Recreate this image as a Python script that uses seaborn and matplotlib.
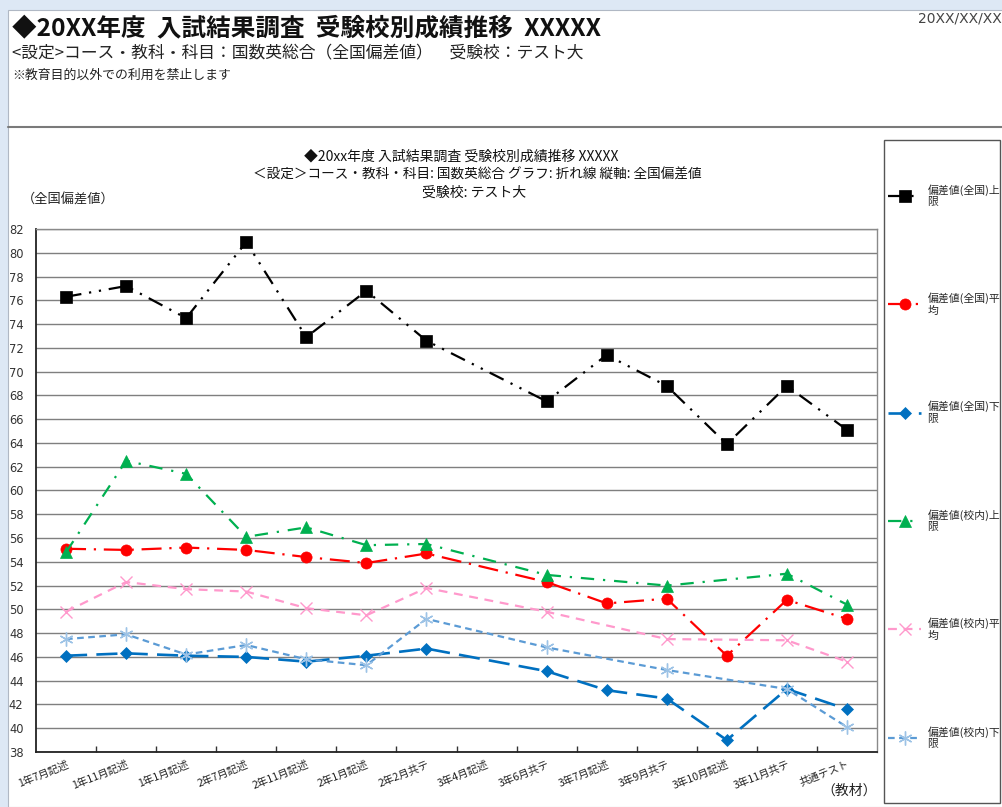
import numpy as np
import pandas as pd
import matplotlib
matplotlib.use("Agg")
import matplotlib.pyplot as plt
from matplotlib.patches import Rectangle
from matplotlib.lines import Line2D
import seaborn as sns

# ---- data -------------------------------------------------------------
categories = ["1年7月記述", "1年11月記述", "1年1月記述", "2年7月記述", "2年11月記述",
              "2年1月記述", "2年2月共テ", "3年4月記述", "3年6月共テ", "3年7月記述",
              "3年9月共テ", "3年10月記述", "3年11月共テ", "共通テスト"]
nan = np.nan
zenkoku_upper = [76.3, 77.2, 74.5, 80.9, 72.9, 76.8, 72.6, nan, 67.5, 71.4, 68.8, 63.9, 68.8, 65.1]
zenkoku_mean = [55.1, 55.0, 55.2, 55.0, 54.4, 53.9, 54.7, nan, 52.3, 50.5, 50.9, 46.1, 50.8, 49.2]
zenkoku_lower = [46.1, 46.3, 46.1, 46.0, 45.6, 46.1, 46.7, nan, 44.8, 43.2, 42.5, 39.0, 43.3, 41.6]
konai_upper = [54.8, 62.5, 61.4, 56.1, 56.9, 55.4, 55.5, nan, 52.9, nan, 52.0, nan, 53.0, 50.4]
konai_mean = [49.8, 52.3, 51.7, 51.5, 50.1, 49.5, 51.8, nan, 49.8, nan, 47.5, nan, 47.4, 45.6]
konai_lower = [47.5, 47.9, 46.2, 47.0, 45.8, 45.3, 49.2, nan, 46.8, nan, 44.9, nan, 43.3, 40.1]
series_labels = ["偏差値(全国)上限", "偏差値(全国)平均", "偏差値(全国)下限",
                 "偏差値(校内)上限", "偏差値(校内)平均", "偏差値(校内)下限"]
y_ticks = list(range(38, 83, 2))

# ---- style ------------------------------------------------------------
sns.set_theme(style="white")
plt.rcParams["font.family"] = ["Noto Sans CJK JP", "DejaVu Sans"]
plt.rcParams["axes.unicode_minus"] = False

W, H = 1002, 807
fig = plt.figure(figsize=(W / 100, H / 100), dpi=100, facecolor="#dde8f5")


def fx(x):
    return x / W


def fy(y):
    return 1 - y / H


# white sheet with a thin edge
fig.patches.append(Rectangle((fx(8), 0), 1, fy(10), transform=fig.transFigure,
                             facecolor="white", edgecolor="#b0b8c4", lw=0.8, zorder=-5))
# separator under the heading block
fig.add_artist(Line2D([fx(8), 1], [fy(127), fy(127)], transform=fig.transFigure,
                      color="#7a7a7a", lw=1.5))

# heading block
fig.text(fx(12), fy(28), "◆20XX年度  入試結果調査  受験校別成績推移  XXXXX",
         fontsize=17.7, weight="bold", va="center", ha="left", color="#111")
fig.text(fx(12), fy(54), "<設定>コース・教科・科目：国数英総合（全国偏差値）　受験校：テスト大",
         fontsize=12.1, va="center", ha="left", color="#222")
fig.text(fx(12), fy(75), "※教育目的以外での利用を禁止します",
         fontsize=9.3, va="center", ha="left", color="#222")
fig.text(fx(918), fy(18), "20XX/XX/XX", fontsize=10, va="center", ha="left",
         color="#444", family=["DejaVu Sans"])

# chart title
fig.text(fx(461), fy(157), "◆20xx年度 入試結果調査 受験校別成績推移 XXXXX",
         fontsize=10, ha="center", va="center", color="#111")
fig.text(fx(477), fy(175), "＜設定＞コース・教科・科目: 国数英総合 グラフ: 折れ線 縦軸: 全国偏差値",
         fontsize=9.8, ha="center", va="center", color="#111")
fig.text(fx(474), fy(193), "受験校: テスト大",
         fontsize=10, ha="center", va="center", color="#111")

fig.text(fx(22), fy(200), "（全国偏差値）", fontsize=9.5, ha="left", va="center", color="#222")
fig.text(fx(877), fy(791), "（教材）", fontsize=10, ha="right", va="center", color="#222")

# ---- plot -------------------------------------------------------------
ax = fig.add_axes([fx(36), fy(752), fx(877) - fx(36), fy(229) - fy(752)])
ax.set_facecolor("white")

series = [
    (zenkoku_upper, dict(color="black", marker="s", markersize=8, lw=1.6,
                         ls=(0, (7, 3.5, 1, 3.5, 1, 3.5)),
                         markerfacecolor="black", markeredgecolor="black", markeredgewidth=0.5)),
    (zenkoku_mean, dict(color="#ff0000", marker="o", markersize=8, lw=1.6,
                        ls=(0, (9, 3.5, 1, 3.5)),
                        markerfacecolor="#ff0000", markeredgecolor="#ff0000", markeredgewidth=0.5)),
    (zenkoku_lower, dict(color="#0070c0", marker="D", markersize=6.5, lw=1.9,
                         ls=(0, (8, 3.5)),
                         markerfacecolor="#0070c0", markeredgecolor="#0070c0", markeredgewidth=0.5)),
    (konai_upper, dict(color="#00b050", marker="^", markersize=8.5, lw=1.6,
                       ls=(0, (6, 4, 1, 4)),
                       markerfacecolor="#00b050", markeredgecolor="#00b050", markeredgewidth=0.5)),
    (konai_mean, dict(color="#ff99cc", marker="x", markersize=8.5, lw=1.6,
                      ls=(0, (4, 3)),
                      markerfacecolor="none", markeredgecolor="#ff99cc", markeredgewidth=1.0)),
    (konai_lower, dict(color="#5b9bd5", marker=(6, 2, 0), markersize=10, lw=1.6,
                       ls=(0, (3, 2)),
                       markerfacecolor="none", markeredgecolor="#9dc3e6", markeredgewidth=1.0)),
]

for label, (values, kws) in zip(series_labels, series):
    df = pd.DataFrame({"pos": np.arange(len(categories)), "教材": categories,
                       "偏差値": values}).dropna()
    sns.lineplot(data=df, x="pos", y="偏差値", ax=ax, estimator=None, sort=False,
                 label=label, **kws)

ax.set_xlim(-0.5, len(categories) - 0.5)
ax.set_ylim(y_ticks[0], y_ticks[-1])
ax.set_yticks(y_ticks)
ax.set_xticks(np.arange(len(categories)))
ax.set_xticklabels(categories, rotation=22, ha="right", rotation_mode="anchor",
                   fontsize=7.6, color="#222")
ax.set_xticks(np.arange(0.5, len(categories) - 1, 1), minor=True)
ax.tick_params(axis="x", which="major", length=0, pad=5)
ax.tick_params(axis="x", which="minor", direction="in", length=4, width=1, color="#333",
               bottom=True)
ax.tick_params(axis="y", length=0, pad=9, labelsize=8.3, labelcolor="#333")
for t in ax.get_yticklabels():
    t.set_family(["DejaVu Sans"])
ax.set_xlabel("")
ax.set_ylabel("")
ax.yaxis.grid(True, color="#7f7f7f", lw=1.0)
ax.xaxis.grid(False)
ax.set_axisbelow(True)
for side in ("left", "bottom"):
    ax.spines[side].set_color("#222")
    ax.spines[side].set_linewidth(1.3)
for side in ("top", "right"):
    ax.spines[side].set_color("#8a8a8a")
    ax.spines[side].set_linewidth(1.0)

# ---- legend -----------------------------------------------------------
fig.patches.append(Rectangle((fx(884), fy(803)), fx(1000) - fx(884), fy(140) - fy(803),
                             transform=fig.transFigure, fill=False, edgecolor="#555", lw=1.0))
handles, labels = ax.get_legend_handles_labels()
wrapped = [lab[:-1] + "\n" + lab[-1] for lab in labels]
ax.legend(handles, wrapped, loc="upper left", bbox_to_anchor=(fx(888), fy(184)),
          bbox_transform=fig.transFigure, frameon=False, fontsize=7.8,
          handlelength=3.05, handletextpad=0.6, labelspacing=7.85,
          borderpad=0, borderaxespad=0, alignment="left")

fig.savefig("out.png", dpi=100, facecolor=fig.get_facecolor())
